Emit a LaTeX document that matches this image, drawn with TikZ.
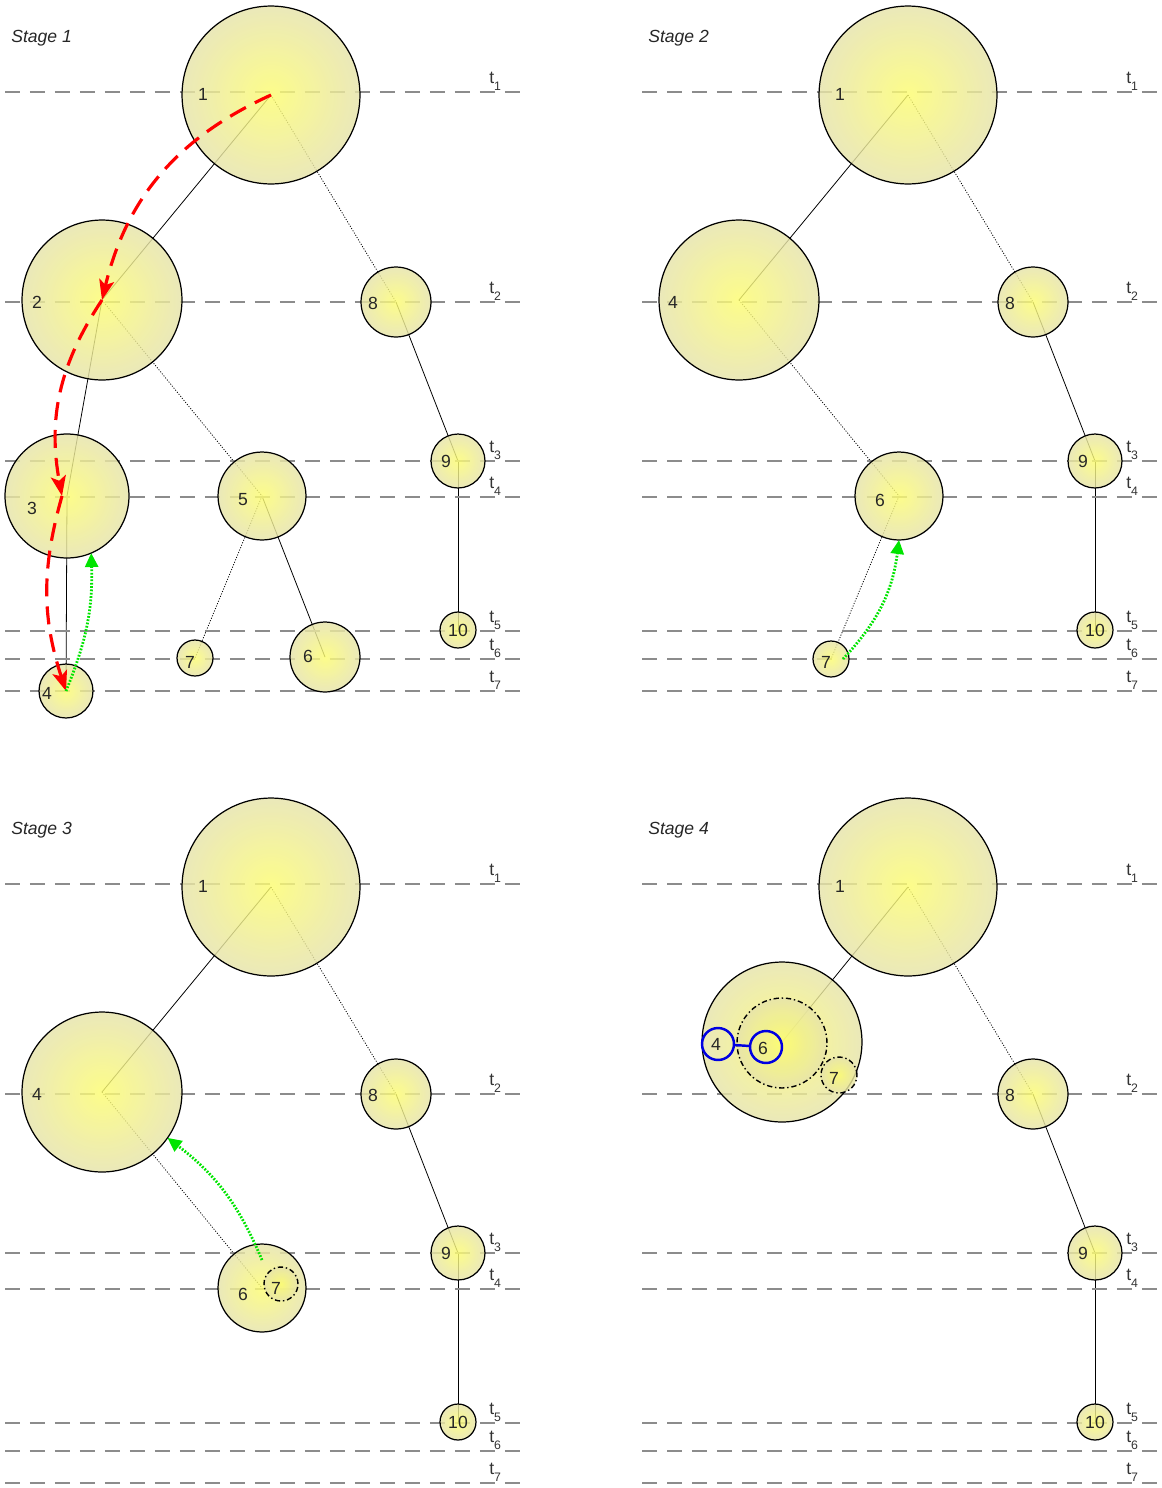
\documentclass[tikz,border=0pt]{standalone}
\usepackage{fontspec}
\setmainfont{Liberation Sans}
\usetikzlibrary{arrows.meta,backgrounds}
\definecolor{blobin}{RGB}{252,252,112}
\definecolor{blobout}{RGB}{230,227,170}
\definecolor{timegray}{RGB}{140,140,140}
\definecolor{descentred}{RGB}{255,0,0}
\definecolor{backgreen}{RGB}{0,228,0}
\definecolor{mergeblue}{RGB}{0,0,225}

\begin{document}
\begin{tikzpicture}[
  x=0.02cm, y=-0.02cm,
  blob/.style={circle, draw=black, line width=0.7pt, inner sep=0pt, outer sep=0pt,
               inner color=blobin, outer color=blobout, fill opacity=0.82,
               minimum size=#1*0.04cm},
  inblob/.style={blob=#1, line width=0.8pt,
               dash pattern=on 3pt off 1.6pt on 0.8pt off 1.6pt},
  ring/.style={circle, draw=mergeblue, line width=1.4pt, inner sep=0pt,
               outer sep=0pt, minimum size=#1*0.04cm},
  num/.style={font=\normalsize, text=black!85, inner sep=0pt},
  stagelab/.style={font=\normalsize\itshape, text=black!85, anchor=base west, inner sep=0pt},
  tlab/.style={font=\normalsize, text=black!80, anchor=base west, inner sep=0pt},
  tline/.style={timegray, line width=0.75pt, dash pattern=on 0.3cm off 0.2cm},
  link/.style={black, line width=0.45pt},
  weak/.style={black, line width=0.45pt, dash pattern=on 0.6pt off 0.9pt},
  descent/.style={descentred, line width=1.8pt, dash pattern=on 0.36cm off 0.2cm,
               -{Stealth[length=4mm, width=3mm, inset=0.9mm]}},
  climb/.style={backgreen, line width=1.6pt, dash pattern=on 1pt off 0.9pt,
               -{Triangle[length=2.8mm, width=2.6mm]}},
]
  \useasboundingbox (0,0) rectangle (1161,1488);

  % time levels, the same in all four stages
  \foreach \sx/\sy/\st in {0/0/1, 637/0/2, 0/792/3, 637/792/4}{
    \foreach \ty/\lv in {92/1, 302/2, 461/3, 497/4, 631/5, 659/6, 691/7}{
      \draw[tline] (\sx+5,\sy+\ty) -- (\sx+520,\sy+\ty);
      \node[tlab] (t\st-\lv) at (\sx+489,\sy+\ty-9) {t\raisebox{-0.8ex}{\scriptsize\lv}};
    }
  }

  % Stage 1
  \node[stagelab] (st1) at (11,42) {Stage 1};
  \node[blob=89] (a1) at (271,95) {};
  \node[blob=80] (a2) at (102,300) {};
  \node[blob=62] (a3) at (67,496) {};
  \node[blob=27] (a4) at (66,691) {};
  \node[blob=44] (a5) at (262,496) {};
  \node[blob=35] (a6) at (325,657) {};
  \node[blob=18] (a7) at (195,658) {};
  \node[blob=35] (a8) at (396,302) {};
  \node[blob=27] (a9) at (458,461) {};
  \node[blob=18] (a10) at (458,630) {};
  \node[num] (a1t) at (203,94) {1};
  \node[num] (a2t) at (37,302) {2};
  \node[num] (a3t) at (32,508) {3};
  \node[num] (a4t) at (47,693) {4};
  \node[num] (a5t) at (243,500) {5};
  \node[num] (a6t) at (308,656) {6};
  \node[num] (a7t) at (190,662) {7};
  \node[num] (a8t) at (373,303) {8};
  \node[num] (a9t) at (446,461) {9};
  \node[num] (a10t) at (458,630) {10};
  \begin{scope}[on background layer]
    \draw[link] (a1.center) -- (a2.center);
    \draw[weak] (a1.center) -- (a8.center);
    \draw[link] (a2.center) -- (a3.center);
    \draw[weak] (a2.center) -- (a5.center);
    \draw[link] (a3.center) -- (a4.center);
    \draw[weak] (a5.center) -- (a7.center);
    \draw[link] (a5.center) -- (a6.center);
    \draw[link] (a8.center) -- (a9.center);
    \draw[link] (a9.center) -- (a10.center);
  \end{scope}
  \draw[descent] (a1.center) to[bend right=26] (a2.center);
  \draw[descent] (a2.center) to[bend right=22] ([xshift=-0.1cm]a3.center);
  \draw[descent] ([xshift=-0.1cm]a3.center) to[bend right=17] (a4.center);
  \draw[climb] (a4.center) to[bend right=12] (a3.-67);

  % Stage 2
  \begin{scope}[shift={(637,0)}]
    \node[stagelab] (st2) at (11,42) {Stage 2};
    \node[blob=89] (b1) at (271,95) {};
    \node[blob=80] (b4) at (102,300) {};
    \node[blob=44] (b6) at (262,496) {};
    \node[blob=18] (b7) at (194,659) {};
    \node[blob=35] (b8) at (396,302) {};
    \node[blob=27] (b9) at (458,461) {};
    \node[blob=18] (b10) at (458,630) {};
    \node[num] (b1t) at (203,94) {1};
    \node[num] (b4t) at (36,302) {4};
    \node[num] (b6t) at (243,500) {6};
    \node[num] (b7t) at (189,662) {7};
    \node[num] (b8t) at (373,303) {8};
    \node[num] (b9t) at (446,461) {9};
    \node[num] (b10t) at (458,630) {10};
    \begin{scope}[on background layer]
      \draw[link] (b1.center) -- (b4.center);
      \draw[weak] (b1.center) -- (b8.center);
      \draw[weak] (b4.center) -- (b6.center);
      \draw[weak] (b6.center) -- (b7.center);
      \draw[link] (b8.center) -- (b9.center);
      \draw[link] (b9.center) -- (b10.center);
    \end{scope}
    \draw[climb] ([xshift=0.24cm]b7.center) to[bend right=18] (b6.south);
  \end{scope}

  % Stage 3
  \begin{scope}[shift={(0,792)}]
    \node[stagelab] (st3) at (11,42) {Stage 3};
    \node[blob=89] (c1) at (271,95) {};
    \node[blob=80] (c4) at (102,300) {};
    \node[blob=44] (c6) at (262,496) {};
    \node[inblob=17] (c7) at (281,492) {};
    \node[blob=35] (c8) at (396,302) {};
    \node[blob=27] (c9) at (458,461) {};
    \node[blob=18] (c10) at (458,630) {};
    \node[num] (c1t) at (203,94) {1};
    \node[num] (c4t) at (37,302) {4};
    \node[num] (c6t) at (243,502) {6};
    \node[num] (c7t) at (276,496) {7};
    \node[num] (c8t) at (373,303) {8};
    \node[num] (c9t) at (446,461) {9};
    \node[num] (c10t) at (458,630) {10};
    \begin{scope}[on background layer]
      \draw[link] (c1.center) -- (c4.center);
      \draw[weak] (c1.center) -- (c8.center);
      \draw[weak] (c4.center) -- (c6.center);
      \draw[link] (c8.center) -- (c9.center);
      \draw[link] (c9.center) -- (c10.center);
    \end{scope}
    \draw[climb] ([yshift=0.56cm]c6.center) to[bend right=15] (c4.-35);
  \end{scope}

  % Stage 4
  \begin{scope}[shift={(637,792)}]
    \node[stagelab] (st4) at (11,42) {Stage 4};
    \node[blob=89] (d1) at (271,95) {};
    \node[blob=80] (d46) at (145,250) {};
    \node[inblob=45] (d6g) at (145,251) {};
    \node[inblob=18] (d7) at (202,283) {};
    \node[ring=16] (d4) at (81,252) {};
    \node[ring=16] (d6) at (129,255) {};
    \node[blob=35] (d8) at (396,302) {};
    \node[blob=27] (d9) at (458,461) {};
    \node[blob=18] (d10) at (458,630) {};
    \node[num] (d1t) at (203,94) {1};
    \node[num] (d4t) at (79,252) {4};
    \node[num] (d6t) at (126,256) {6};
    \node[num] (d7t) at (197,286) {7};
    \node[num] (d8t) at (373,303) {8};
    \node[num] (d9t) at (446,461) {9};
    \node[num] (d10t) at (458,630) {10};
    \begin{scope}[on background layer]
      \draw[link] (d1.center) -- (d46.center);
      \draw[weak] (d1.center) -- (d8.center);
      \draw[link] (d8.center) -- (d9.center);
      \draw[link] (d9.center) -- (d10.center);
    \end{scope}
    \draw[mergeblue, line width=1.4pt] (d4) -- (d6);
  \end{scope}
\end{tikzpicture}
\end{document}
